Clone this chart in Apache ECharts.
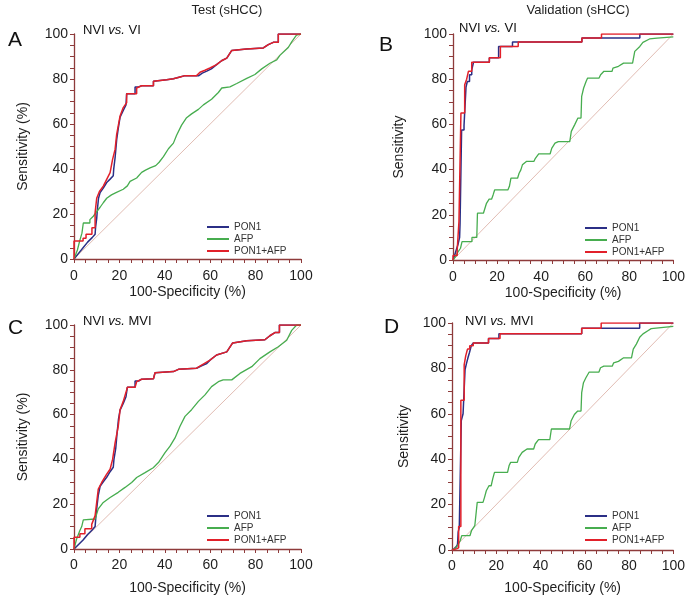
<!DOCTYPE html>
<html><head><meta charset="utf-8">
<script src="https://cdn.jsdelivr.net/npm/echarts@6/dist/echarts.min.js"></script>
<style>html,body{margin:0;padding:0;background:#fff}#c{width:688px;height:596px}</style>
</head><body><div id="c"></div>
<script>
// ---------- data ----------
const SERIES_NAMES = ['PON1', 'AFP', 'PON1+AFP'];
const PANEL_LETTERS = ['A', 'B', 'C', 'D'];
const COLUMN_TITLES = ['Test (sHCC)', 'Validation (sHCC)'];
const COMPARISONS = ['VI', 'VI', 'MVI', 'MVI'];
const Y_NAMES = ['Sensitivity (%)', 'Sensitivity', 'Sensitivity (%)', 'Sensitivity'];
const X_NAME = '100-Specificity (%)';
const REF_LINE = [[0, 0], [100, 100]];

// Panel A: Test, NVI vs. VI
const A_PON1 = [[0,0],[2,2.5],[4,5],[6,7.5],[8,9.5],[9.3,11],[9.5,14],[10,18],[10.3,22],[10.8,27],[11.5,29.5],[12.9,31.5],[14.4,34],[15.9,35.5],[17.3,37],[17.5,40],[18.1,45],[18.8,53],[19.5,58],[20.3,63],[21.7,66],[22.9,68.5],[23.2,73.5],[26.9,73.5],[26.9,76.5],[28.5,76.5],[29.8,77],[35,77],[35,79],[40.8,79.7],[43.8,80.1],[46.7,80.9],[48.9,81.5],[55,81.5],[56.5,82.6],[58.5,83.5],[60.5,84.5],[62.8,86.4],[65,88.1],[67.3,89.3],[69.5,92.7],[76,93.3],[83.4,93.8],[85.6,95.3],[87.8,96.3],[90,96.3],[90,100],[100,100]];
const A_AFP = [[0,0],[1.5,4],[2.5,8],[3.5,11.5],[4.1,11.5],[4.1,16],[7,16],[7,17.5],[8.5,19],[10,21],[11.5,23],[12.9,25],[14.4,27],[16.5,28.5],[18.5,29.5],[21.7,31],[23.5,32.5],[24.7,34.5],[27.6,36],[29.8,38.5],[31.5,39.5],[33.5,40.5],[36,41.5],[37.5,43],[39.4,45.5],[41.6,49],[43.8,51.5],[45.2,55],[47.4,59.5],[49.6,62.8],[51.8,64.5],[54.8,66.5],[57,68.5],[60.6,71],[63.6,74],[65.1,76],[68.7,76.5],[71.7,78],[76.1,80.3],[79.7,82],[82.7,84.5],[86.3,87],[89.3,88.5],[90.7,90.5],[94.4,94],[95.9,96.5],[98,99.5],[100,100]];
const A_COMBO = [[0,0],[0,8],[4,8],[4,9.2],[5.3,9.2],[5.3,11],[7.9,11],[7.9,13.9],[9.3,13.9],[9.3,20.6],[10,20.6],[10,27],[11.2,30],[12.9,32.4],[14.4,35.4],[15.9,38.4],[17,44.3],[18.1,48.7],[18.8,55.4],[20.3,63.6],[21.7,67.3],[23.2,69.5],[23.2,73.5],[27.6,73.5],[27.6,76],[29.8,77],[35,77],[35,79],[40.8,79.7],[43.8,80.1],[46.7,80.9],[48.9,81.5],[54,81.5],[55.5,83],[57.7,83.9],[59.9,84.9],[62.8,86.4],[65,88.1],[67.3,89.3],[69.5,92.7],[76,93.3],[83.4,93.8],[85.6,95.3],[87.8,96.3],[90,96.3],[90,100],[100,100]];

// Panel B: Validation, NVI vs. VI
const B_PON1 = [[0,0],[0.7,2],[1.5,4.5],[2.3,7],[3,10],[3.2,16],[3.9,16],[3.9,57.5],[5,57.5],[5,59.5],[5.9,59.5],[5.9,76.5],[6.5,76.5],[6.5,79],[7.5,79],[7.5,82],[8.5,82],[8.5,84],[9.3,84],[9.3,87.5],[16.5,87.5],[16.5,89.5],[20.7,89.5],[20.7,94.5],[27,94.5],[27,96.5],[58.5,96.5],[58.5,98.2],[84.8,98.2],[84.8,100],[100,100]];
const B_AFP = [[0,0],[1.2,1.5],[1.9,3],[3.4,5.2],[4.1,8.1],[8.6,8.1],[8.6,10],[10.8,10],[11.1,20.7],[13.8,20.7],[14.5,22.9],[15.2,25.1],[16.4,26.9],[17.5,26.9],[18.2,28.8],[18.9,31],[24.9,31],[25.6,32.6],[26.3,36.2],[29.3,36.2],[30,38.4],[30.8,39.9],[31.5,42.1],[33.3,43.6],[36.7,43.6],[37.4,45],[38.9,47],[44.1,47],[44.8,49.4],[46.3,51.7],[47.8,52.4],[53,52.4],[53.7,56.9],[55.2,59.8],[56.7,62.8],[58.1,62.8],[58.4,72.4],[59.3,76.1],[60.4,79],[61.1,80.5],[66.3,80.5],[67,82],[68.5,83.5],[72.2,83.5],[72.6,84.9],[75.1,85.7],[77.4,87.1],[81.5,87.1],[82.5,92.3],[84.8,94.5],[86.2,96.3],[89.2,97.8],[92.6,98.2],[100,98.7]];
const B_COMBO = [[0,0],[0,2],[1.9,2],[1.9,4.4],[2.7,4.4],[2.7,17],[3.6,17],[3.6,65],[5.3,65],[5.3,77.5],[6.2,77.5],[6.2,80],[7,80],[7,83.5],[8.5,83.5],[8.5,87.5],[16.5,87.5],[16.5,89.5],[21.5,89.5],[21.5,94.5],[29.6,94.5],[29.6,96.5],[58.5,96.5],[58.5,98.2],[67.4,98.2],[67.4,100],[100,100]];

// Panel C: Test, NVI vs. MVI
const C_PON1 = [[0,0],[2,2],[4,4],[6,6.5],[8,8.5],[9.3,10],[9.6,14],[10,18],[10.7,24],[11.5,28],[12.9,30],[14.4,32],[15.9,34.5],[17.3,36.5],[17.6,40],[18.4,45],[19,52],[19.6,58],[20.3,62],[21.7,65],[22.9,68],[23.5,72.2],[26.9,72.2],[26.9,75],[28.5,75],[29.8,75.8],[35,76],[35.7,78.7],[43.8,79.2],[46,80.2],[54,80.7],[56.2,81.8],[58.5,82.8],[59.9,84.3],[62.8,86.6],[67.3,88],[69.9,92],[76.1,93],[84.1,93.4],[86.3,95.2],[88.5,96.6],[90.5,96.6],[90.5,100],[100,100]];
const C_AFP = [[0,0],[1.2,4.6],[2.5,8],[3.4,10],[4.1,13],[9.3,13.4],[10.7,17.9],[12.9,20.8],[15.9,23],[19.5,25.3],[22.5,27.5],[25.4,29.7],[27.6,31.9],[31.3,34.1],[34.9,36.3],[37.2,38.6],[40.1,43],[42.3,45.9],[44.5,49.6],[46.7,54.8],[48.9,59.2],[51.8,62.2],[54.8,65.9],[57.7,68.8],[60.6,72.5],[63.6,74.7],[65.7,75.5],[69.5,75.5],[73.1,78.4],[78.3,81.4],[81.9,85],[86.3,88],[90,90.3],[93.7,93.2],[95.9,97.6],[98.1,100],[100,100]];
const C_COMBO = [[0,0],[0,5.3],[2.6,5.3],[2.6,6.8],[4.8,6.8],[4.8,9],[7.8,9],[7.8,11],[9.3,14.9],[10,20.8],[10.7,26.7],[12.2,29.7],[14.4,33.4],[15.9,35.6],[17,40],[18.1,47.4],[19.5,54.8],[20.3,62.2],[21.7,65.9],[23.2,71],[23.5,72.2],[26.9,72.2],[27.6,74.7],[29.8,75.8],[35,76],[35.7,78.7],[43.8,79.2],[46,80.2],[54,80.7],[56.2,82.1],[59.9,84.3],[62.8,86.6],[67.3,88],[69.9,92],[76.1,93],[84.1,93.4],[86.3,95.2],[88.5,96.6],[90.5,96.6],[90.5,100],[100,100]];

// Panel D: Validation, NVI vs. MVI
const D_PON1 = [[0,0],[1,0.5],[2,1.5],[2.5,2.5],[2.8,8],[3.3,8],[3.3,10],[4.2,10],[4.2,57],[5,57],[5,60],[5.9,60],[5.9,79.5],[6.5,79.5],[6.5,82],[7.3,82],[7.3,85],[7.9,85],[7.9,87],[8.7,87],[8.7,90],[9.6,90],[9.6,91.2],[16.5,91.2],[16.5,93.2],[21.2,93.2],[21.2,95.3],[58.6,95.3],[58.6,97.7],[84.8,97.7],[84.8,100],[100,100]];
const D_AFP = [[0,0],[1.5,0.7],[2.2,1.6],[2.9,2.6],[3.7,4.1],[4.4,6.3],[8.1,6.3],[8.8,8.5],[10.3,10.7],[11.1,10.7],[11.4,21],[14,21],[14.7,23.2],[15.5,26.1],[16.7,28.3],[17.7,28.3],[18.4,31.3],[19.2,34.2],[25.1,34.2],[25.8,37.2],[26.5,38.6],[29.5,38.6],[30.2,40.8],[31.7,43],[33.9,44.5],[36.9,44.5],[37.6,46.7],[39.1,48.6],[44.2,48.6],[44.9,53.3],[53.1,53.3],[53.8,56.8],[55.3,59.7],[56.8,61.2],[58.3,61.2],[58.6,69.3],[59.4,73.7],[60.5,75.9],[62,78.4],[66.4,78.4],[67.1,80.3],[68.6,81],[72.4,81],[73,82.4],[75.2,83.1],[77.4,84.6],[81.1,84.6],[81.9,88.5],[83.3,90.7],[84.8,93.7],[86.3,95.2],[88.5,96.6],[90,97.5],[100,98.5]];
const D_COMBO = [[0,0],[2,0.5],[3,1],[3,10.3],[4,10.3],[4,66],[5.5,66],[5.5,81.5],[6.2,81.5],[6.2,85.5],[7,85.5],[7,88.5],[8,88.5],[8,90],[9.6,90],[9.6,91.2],[16.5,91.2],[16.5,93.2],[21.7,93.2],[21.7,95.3],[58.6,95.3],[58.6,97.7],[67.4,97.7],[67.4,100],[100,100]];

const PANEL_DATA = [
  [A_PON1, A_AFP, A_COMBO],
  [B_PON1, B_AFP, B_COMBO],
  [C_PON1, C_AFP, C_COMBO],
  [D_PON1, D_AFP, D_COMBO]
];

// ---------- layout / style ----------
const FONT = 'Liberation Sans';
const AX = '#8e3b3b';
const COLORS = ['#2b2f86', '#47ad4f', '#e2202a'];
const WIDTHS = [1.5, 1.3, 1.5];
const LAYOUT = [
  {grid: {left: 74, top: 34, width: 227, height: 225}, yGap: 44, xGap: 26, xMargin: 10,
   legend: {left: 207, top: 221}, letter: [8, 40], sub: [83, 30]},
  {grid: {left: 453, top: 34, width: 225, height: 226}, yGap: 47, xGap: 26, xMargin: 10,
   legend: {left: 585, top: 222}, letter: [379, 45], sub: [459, 28]},
  {grid: {left: 74, top: 325, width: 227, height: 225}, yGap: 44, xGap: 32, xMargin: 9,
   legend: {left: 207, top: 510}, letter: [8, 328], sub: [83, 321]},
  {grid: {left: 452, top: 323, width: 226, height: 227}, yGap: 41, xGap: 31, xMargin: 9,
   legend: {left: 585, top: 510}, letter: [384, 327], sub: [465, 321]}
];
const COL_TITLE_POS = [[227, 10], [578, 10]];

const grids = [], xAxes = [], yAxes = [], series = [], legends = [], graphics = [];
const txt = {fontFamily: FONT, fontSize: 14, color: '#1e1e1e'};

LAYOUT.forEach((L, i) => {
  grids.push(Object.assign({containLabel: false}, L.grid));
  const common = {
    gridIndex: i, type: 'value', min: 0, max: 100, interval: 20,
    axisLine: {show: true, onZero: false, lineStyle: {color: AX, width: 1.3}},
    axisTick: {show: true, length: 4, lineStyle: {color: AX, width: 1}},
    minorTick: {show: true, splitNumber: 4, length: 4, lineStyle: {color: AX, width: 1}},
    splitLine: {show: false}, minorSplitLine: {show: false},
    nameLocation: 'middle', nameTextStyle: txt
  };
  xAxes.push(Object.assign({}, common, {
    name: X_NAME, nameGap: L.xGap,
    axisLabel: Object.assign({margin: L.xMargin}, txt)
  }));
  yAxes.push(Object.assign({}, common, {
    name: Y_NAMES[i], nameGap: L.yGap,
    axisLabel: Object.assign({margin: 6}, txt)
  }));
  series.push({
    type: 'line', name: 'ref', xAxisIndex: i, yAxisIndex: i, data: REF_LINE,
    symbol: 'none', silent: true, lineStyle: {color: '#d9ab9f', width: 0.8}, z: 1
  });
  [1, 0, 2].forEach(k => {
    series.push({
      type: 'line', name: SERIES_NAMES[k], xAxisIndex: i, yAxisIndex: i,
      data: PANEL_DATA[i][k], symbol: 'none', showSymbol: false,
      color: COLORS[k], lineStyle: {color: COLORS[k], width: WIDTHS[k]}, z: 2 + k
    });
  });
  legends.push({
    left: L.legend.left, top: L.legend.top, orient: 'vertical', padding: 0,
    itemGap: 0, itemWidth: 22, itemHeight: 2, icon: 'rect',
    data: SERIES_NAMES.map((n, k) => ({name: n, itemStyle: {color: COLORS[k]}})),
    textStyle: {fontFamily: FONT, fontSize: 10, color: '#333', lineHeight: 12, padding: [0, 0, 0, 0]},
    selectedMode: false
  });
  graphics.push({
    type: 'text', x: L.letter[0], y: L.letter[1],
    style: {text: PANEL_LETTERS[i], fontFamily: FONT, fontSize: 21, fill: '#111', verticalAlign: 'middle', align: 'left'}
  });
  graphics.push({
    type: 'text', x: L.sub[0], y: L.sub[1],
    style: {
      text: '{n|NVI }{i|vs.}{n| ' + COMPARISONS[i] + '}', verticalAlign: 'middle', align: 'left',
      rich: {
        n: {fontFamily: FONT, fontSize: 13, fill: '#111'},
        i: {fontFamily: FONT, fontSize: 13, fontStyle: 'italic', fill: '#111'}
      }
    }
  });
});
COLUMN_TITLES.forEach((t, j) => {
  graphics.push({
    type: 'text', x: COL_TITLE_POS[j][0], y: COL_TITLE_POS[j][1],
    style: {text: t, fontFamily: FONT, fontSize: 13, fill: '#222', align: 'center', verticalAlign: 'middle'}
  });
});

const chart = echarts.init(document.getElementById('c'), null, {renderer: 'canvas'});
chart.setOption({
  animation: false,
  backgroundColor: '#fff',
  textStyle: {fontFamily: FONT},
  grid: grids, xAxis: xAxes, yAxis: yAxes, series: series,
  legend: legends, graphic: graphics
});
</script></body></html>
